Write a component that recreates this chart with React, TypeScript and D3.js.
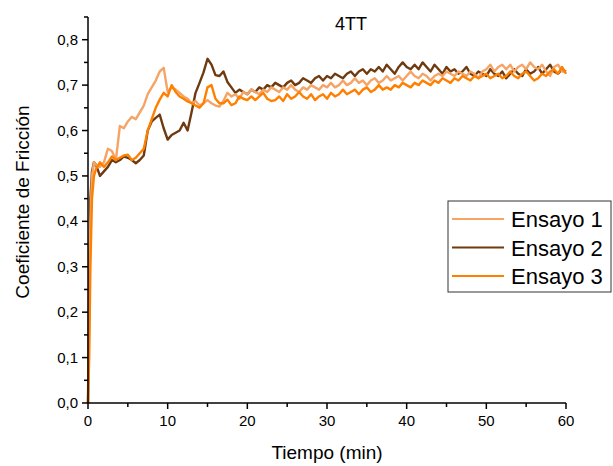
import React from "react";
import * as d3 from "d3";

// tiempo (min): arranque fino y luego cada 0,5 min
const earlyTimes = [0, 0.15, 0.3, 0.5, 0.75, 1.0];
const times = earlyTimes.concat(d3.range(1.5, 60.001, 0.5));

const ensayo1 = [
  0, 0.18, 0.4, 0.5, 0.53, 0.525,
  0.52, 0.53, 0.56, 0.555, 0.535, 0.61, 0.605, 0.62, 0.63, 0.625,
  0.64, 0.655, 0.68, 0.695, 0.71, 0.73, 0.738, 0.685, 0.695, 0.69,
  0.683, 0.675, 0.67, 0.66, 0.665, 0.655, 0.66, 0.667, 0.66, 0.655,
  0.653, 0.665, 0.683, 0.675, 0.68, 0.67, 0.685, 0.68, 0.69, 0.685,
  0.68, 0.69, 0.685, 0.695, 0.69, 0.685, 0.695, 0.69, 0.7, 0.69,
  0.685, 0.695, 0.69, 0.7, 0.695, 0.69, 0.7, 0.695, 0.705, 0.695,
  0.7, 0.71, 0.7, 0.705, 0.715, 0.705, 0.71, 0.7, 0.71, 0.715,
  0.705, 0.71, 0.72, 0.71, 0.715, 0.72, 0.71, 0.72, 0.73, 0.72,
  0.715, 0.725, 0.72, 0.71, 0.72, 0.725, 0.72, 0.73, 0.725, 0.72,
  0.73, 0.725, 0.72, 0.73, 0.725, 0.715, 0.73, 0.735, 0.745, 0.73,
  0.74, 0.745, 0.735, 0.745, 0.73, 0.74, 0.745, 0.735, 0.75, 0.74,
  0.735, 0.745, 0.73, 0.72, 0.74, 0.745, 0.73, 0.73,
];

const ensayo2 = [
  0, 0.25, 0.45, 0.51, 0.53, 0.525,
  0.5, 0.51, 0.52, 0.535, 0.53, 0.535, 0.543, 0.54, 0.535, 0.528,
  0.535, 0.545, 0.6, 0.62, 0.628, 0.635, 0.605, 0.58, 0.59, 0.595,
  0.6, 0.617, 0.6, 0.64, 0.683, 0.705, 0.728, 0.758, 0.745, 0.722,
  0.72, 0.73, 0.707, 0.695, 0.683, 0.69, 0.685, 0.68, 0.69, 0.685,
  0.695, 0.69, 0.7, 0.695, 0.705, 0.7, 0.695, 0.705, 0.71, 0.7,
  0.705, 0.715, 0.71, 0.705, 0.715, 0.72, 0.71, 0.72, 0.715, 0.725,
  0.72, 0.715, 0.725, 0.73, 0.72, 0.73, 0.735, 0.725, 0.735, 0.73,
  0.74, 0.73, 0.745, 0.735, 0.725, 0.74, 0.75, 0.74, 0.735, 0.745,
  0.735, 0.75, 0.74, 0.73, 0.745, 0.735, 0.725, 0.74, 0.73, 0.735,
  0.725, 0.73, 0.74, 0.725, 0.72, 0.73, 0.725, 0.72, 0.735, 0.725,
  0.72, 0.73, 0.715, 0.725, 0.735, 0.725, 0.72, 0.735, 0.725, 0.73,
  0.74, 0.725, 0.735, 0.745, 0.73, 0.725, 0.735, 0.73,
];

const ensayo3 = [
  0, 0.1, 0.3, 0.45, 0.5, 0.515,
  0.53, 0.52, 0.53, 0.543, 0.535, 0.54, 0.545, 0.547, 0.535, 0.54,
  0.55, 0.56, 0.6, 0.625, 0.65, 0.668, 0.683, 0.675, 0.7, 0.685,
  0.675, 0.67, 0.664, 0.66, 0.655, 0.65, 0.66, 0.695, 0.7, 0.67,
  0.66, 0.66, 0.668, 0.656, 0.66, 0.675, 0.67, 0.667, 0.675, 0.667,
  0.675, 0.683, 0.67, 0.665, 0.667, 0.675, 0.665, 0.68, 0.67, 0.675,
  0.685, 0.675, 0.67, 0.68, 0.667, 0.675, 0.68, 0.67, 0.683, 0.675,
  0.68, 0.69, 0.68, 0.685, 0.69, 0.68, 0.69, 0.695, 0.685, 0.69,
  0.7, 0.69, 0.695, 0.69, 0.7, 0.695, 0.705, 0.7, 0.695, 0.705,
  0.7, 0.71, 0.705, 0.7, 0.71, 0.705, 0.715, 0.71, 0.705, 0.715,
  0.71, 0.72, 0.715, 0.71, 0.72, 0.715, 0.72, 0.725, 0.715, 0.72,
  0.725, 0.715, 0.72, 0.73, 0.72, 0.715, 0.725, 0.73, 0.72, 0.71,
  0.715, 0.725, 0.72, 0.73, 0.735, 0.725, 0.74, 0.725,
];

const seriesNames = ["Ensayo 1", "Ensayo 2", "Ensayo 3"];
const seriesColors = ["#F5A466", "#6E3B10", "#FF8000"];
const xTicks = [0, 10, 20, 30, 40, 50, 60];
const yTicks = [0, 0.1, 0.2, 0.3, 0.4, 0.5, 0.6, 0.7, 0.8];

const W = 613;
const H = 466;
const margin = { top: 17, right: 47, bottom: 63, left: 88 };
const FONT = "Arial, 'Liberation Sans', sans-serif";

export default function App() {
  const x = d3.scaleLinear().domain([0, 60]).range([margin.left, W - margin.right]);
  const y = d3.scaleLinear().domain([0, 0.85]).range([H - margin.bottom, margin.top]);
  const fmt = (v: number) => d3.format(".1f")(v).replace(".", ",");

  const line = d3
    .line<number>()
    .x((_, i) => x(times[i]))
    .y((d) => y(d));

  const all = [ensayo1, ensayo2, ensayo3];
  // orden de dibujo: el 2 debajo, luego 1, encima 3
  const order = [1, 0, 2];

  const y0 = H - margin.bottom;
  const xMinor = d3.range(5, 60, 10);
  const yMinor = d3.range(0.05, 0.86, 0.1);

  return (
    <svg
      width={W}
      height={H}
      style={{ position: "absolute", left: 0, top: 0, background: "#fff" }}
      fontFamily={FONT}
    >
      {order.map((k) => (
        <path
          key={k}
          d={line(all[k]) ?? ""}
          fill="none"
          stroke={seriesColors[k]}
          strokeWidth={2.4}
          strokeLinejoin="round"
        />
      ))}

      {/* eje x */}
      <line x1={x(0)} x2={x(60)} y1={y0} y2={y0} stroke="#000" strokeWidth={1.5} />
      {xTicks.map((t) => (
        <g key={t}>
          <line x1={x(t)} x2={x(t)} y1={y0} y2={y0 + 6} stroke="#000" strokeWidth={1.5} />
          <text x={x(t)} y={y0 + 23} textAnchor="middle" fontSize={15}>
            {t}
          </text>
        </g>
      ))}
      {xMinor.map((t) => (
        <line key={t} x1={x(t)} x2={x(t)} y1={y0} y2={y0 + 4} stroke="#000" strokeWidth={1.5} />
      ))}

      {/* eje y */}
      <line x1={x(0)} x2={x(0)} y1={y(0.85)} y2={y0} stroke="#000" strokeWidth={1.5} />
      {yTicks.map((t) => (
        <g key={t}>
          <line x1={x(0) - 6} x2={x(0)} y1={y(t)} y2={y(t)} stroke="#000" strokeWidth={1.5} />
          <text x={x(0) - 10} y={y(t) + 5} textAnchor="end" fontSize={15}>
            {fmt(t)}
          </text>
        </g>
      ))}
      {yMinor.map((t) => (
        <line key={t} x1={x(0) - 4} x2={x(0)} y1={y(t)} y2={y(t)} stroke="#000" strokeWidth={1.5} />
      ))}

      <text x={351} y={30} textAnchor="middle" fontSize={18}>
        4TT
      </text>
      <text x={x(30)} y={459} textAnchor="middle" fontSize={19}>
        Tiempo (min)
      </text>
      <text
        transform={`translate(29,${(margin.top + y0) / 2 - 8}) rotate(-90)`}
        textAnchor="middle"
        fontSize={19}
      >
        Coeficiente de Fricción
      </text>

      {/* leyenda */}
      <rect x={448} y={201} width={163} height={91} fill="#fff" stroke="#333" strokeWidth={1} />
      {seriesNames.map((n, i) => (
        <g key={n} transform={`translate(0,${219 + i * 28.5})`}>
          <line x1={452} x2={504} y1={0} y2={0} stroke={seriesColors[i]} strokeWidth={2} />
          <text x={511} y={8} fontSize={22}>
            {n}
          </text>
        </g>
      ))}
    </svg>
  );
}
